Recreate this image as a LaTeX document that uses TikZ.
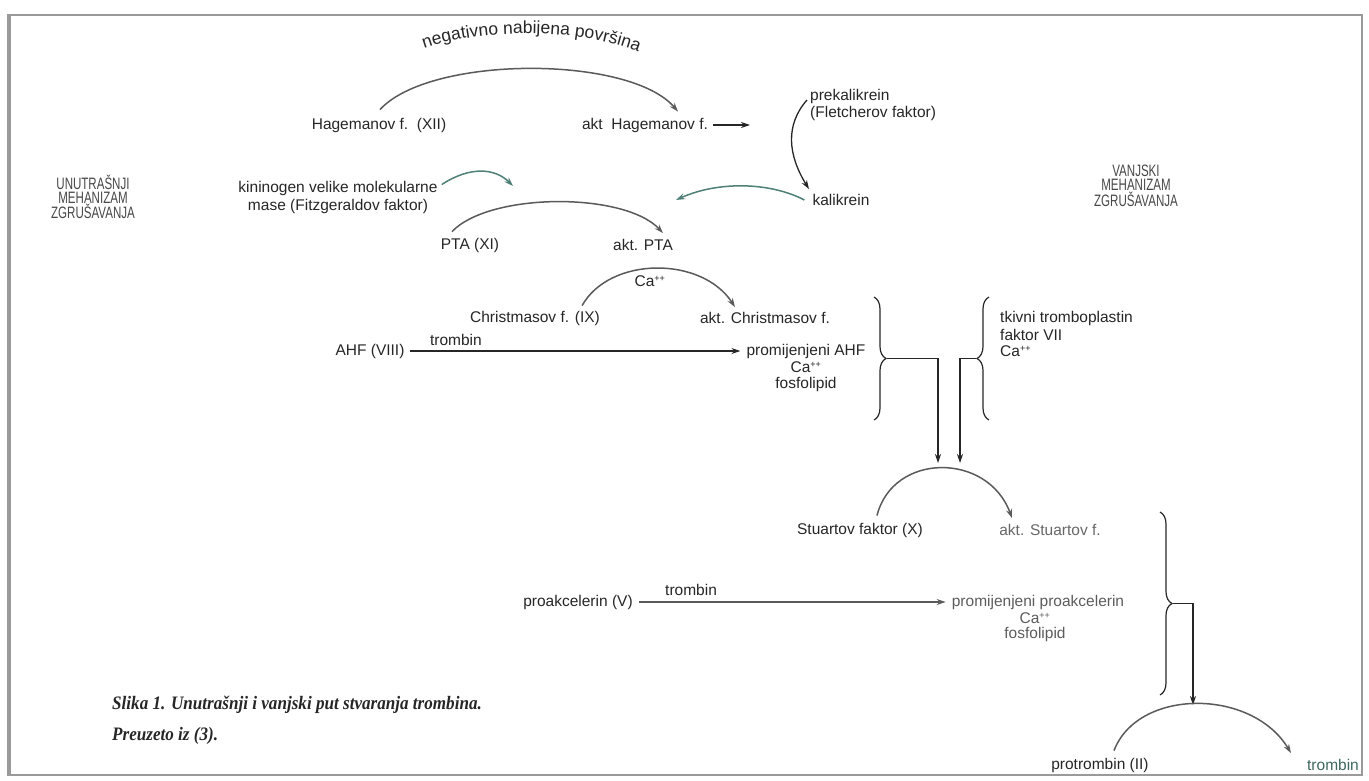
\documentclass[tikz,border=0pt]{standalone}
\usepackage{fontspec}
\setmainfont{Liberation Sans}
\newfontfamily\condfont{Liberation Sans}[FakeStretch=0.7]
\newfontfamily\capfont{Liberation Serif}[FakeStretch=0.9]
\usetikzlibrary{arrows.meta,decorations.pathreplacing,decorations.text}
\definecolor{txt}{HTML}{262626}
\definecolor{arcg}{HTML}{5A5A5A}
\definecolor{tealc}{HTML}{4E8077}
\definecolor{framec}{HTML}{9A9A9A}
\newcommand{\cpp}{\textsuperscript{\fontsize{9}{9}\selectfont ++}}
\tikzset{
  lbl/.style={inner sep=0pt, text=txt, font=\fontsize{15.5}{18}\selectfont},
  mech/.style={inner sep=0pt, text=txt!85, align=center, font=\condfont\fontsize{16.5}{14}\selectfont},
  arcarrow/.style={draw=arcg, line width=1.5pt, -{Stealth[length=9pt,width=6pt]}},
  blkarrow/.style={draw=txt, line width=1.3pt, -{Stealth[length=9pt,width=6pt]}},
  tealarrow/.style={draw=tealc, line width=1.5pt, -{Stealth[length=9pt,width=6pt]}},
  bracestyle/.style={draw=txt, line width=1.2pt, decorate, decoration={brace, amplitude=12pt}},
  connline/.style={draw=txt, line width=1.2pt},
  captxt/.style={inner sep=0pt, anchor=west, text=txt, font=\capfont\bfseries\itshape\fontsize{19}{21}\selectfont},
}
\begin{document}
\begin{tikzpicture}[x=1pt,y=-1pt]
\useasboundingbox (0,0) rectangle (1369,781);
% frame
\draw[framec, line width=2.5pt] (8,15) -- (1362,15) -- (1362,775) -- (8,775) -- cycle;
\draw[framec, line width=4pt] (9,15) -- (9,775);

% side labels
\node[mech] (unut) at (93,197) {UNUTRAŠNJI\\MEHANIZAM\\ZGRUŠAVANJA};
\node[mech] (vanj) at (1136,186) {VANJSKI\\MEHANIZAM\\ZGRUŠAVANJA};

% row 1
\node[lbl] (hag) at (379,125) {Hagemanov f.\ \ (XII)};
\node[lbl] (akthag) at (645,125) {akt\ \ Hagemanov f.};
\draw[arcarrow] ([xshift=1pt,yshift=8pt]hag.north) .. controls (430,55) and (630,55) .. ([xshift=33pt,yshift=6pt]akthag.north);
\path[decorate, decoration={text along path, text align=center,
  text={|\fontsize{17.5}{18}\selectfont\color{txt}|negativno nabijena površina}}]
  (400,60) .. controls (458,24) and (602,24) .. (662,64);

\node[lbl, anchor=west] (prek) at (810,96) {prekalikrein};
\node[lbl, anchor=west] (fletch) at (810,113) {(Fletcherov faktor)};
\node[lbl] (kal) at (841,200) {kalikrein};
\coordinate (hagend) at (750,125);
\draw[blkarrow] ([xshift=5pt]akthag.east) -- (hagend);
\draw[blkarrow] ([xshift=-3pt,yshift=-4pt]prek.west) .. controls (785,125) and (788,155) .. ([xshift=-32pt,yshift=5pt]kal.north);

% row 2
\node[lbl, align=center] (kin) at (338,197) {kininogen velike molekularne\\mase (Fitzgeraldov faktor)};
\node[lbl] (pta) at (470,245) {PTA (XI)};
\node[lbl] (aktpta) at (643,245) {akt. PTA};
\draw[arcarrow] ([xshift=-18pt,yshift=6pt]pta.north) .. controls (490,192) and (625,192) .. ([xshift=20pt,yshift=6pt]aktpta.north);
\draw[tealarrow] ([xshift=4pt,yshift=-4pt]kin.north east) .. controls (470,166) and (495,168) .. (513,186);
\draw[tealarrow] ([xshift=-8pt]kal.west) .. controls (770,182) and (718,181) .. (676,200);

% row 3
\node[lbl] (ca1) at (650,281) {Ca\cpp};
\node[lbl] (chr) at (535,318) {Christmasov f. (IX)};
\node[lbl] (aktchr) at (765,318) {akt. Christmasov f.};
\draw[arcarrow] ([xshift=-18pt,yshift=5pt]chr.north east) .. controls (610,256) and (702,256) .. ([xshift=-30pt,yshift=5pt]aktchr.north);

% row 4
\node[lbl] (ahf) at (370,351) {AHF (VIII)};
\node[lbl] (pahf) at (806,351) {promijenjeni AHF};
\node[lbl] (pahfca) at (806,367) {Ca\cpp};
\node[lbl] (pahffos) at (806,384) {fosfolipid};
\draw[blkarrow] ([xshift=5pt]ahf.east) -- node[lbl, above=5pt, pos=0.14] (trb1) {trombin} ([xshift=-6pt]pahf.west);

\node[lbl, anchor=west] (tkiv) at (1000,318) {tkivni tromboplastin};
\node[lbl, anchor=west] (fVII) at (1000,335) {faktor VII};
\node[lbl, anchor=west] (ca3) at (1000,351) {Ca\cpp};

% braces
\draw[bracestyle] (874,297) -- (874,420) coordinate[midway, xshift=13pt] (b1);
\draw[bracestyle] (989,420) -- (989,297) coordinate[midway, xshift=-13pt] (b2);
\node[lbl] (stu) at (860,530) {Stuartov faktor (X)};
\node[lbl, text=txt!70] (aktstu) at (1050,530) {akt. Stuartov f.};
\coordinate (t1) at (938,463);
\coordinate (t2) at (960,463);
\draw[connline] (b1) -| ([yshift=10pt]t1);
\draw[blkarrow, line width=1.2pt] ([yshift=10pt]t1) -- (t1);
\draw[connline] (b2) -| ([yshift=10pt]t2);
\draw[blkarrow, line width=1.2pt] ([yshift=10pt]t2) -- (t2);
\draw[arcarrow] ([xshift=17pt,yshift=7pt]stu.north) .. controls (893,452) and (988,452) .. ([xshift=-38pt,yshift=6pt]aktstu.north);

% row 5
\node[lbl] (proak) at (578,602) {proakcelerin (V)};
\node[lbl, text=txt!75] (pproak) at (1038,602) {promijenjeni proakcelerin};
\node[lbl, text=txt!75] (pproakca) at (1035,618) {Ca\cpp};
\node[lbl, text=txt!75] (pproakfos) at (1035,634) {fosfolipid};
\draw[arcarrow] ([xshift=6pt]proak.east) -- node[lbl, above=6pt, pos=0.17] (trb2) {trombin} ([xshift=-6pt]pproak.west);

\draw[bracestyle] (1160,512) -- (1160,695) coordinate[midway, xshift=13pt] (b3);
\coordinate (t3) at (1193,705);
\draw[connline] (b3) -| ([yshift=10pt]t3);
\draw[blkarrow, line width=1.2pt] ([yshift=10pt]t3) -- (t3);

% row 6
\node[lbl] (prot) at (1100,765) {protrombin (II)};
\node[lbl, text=tealc!80!black] (tromb) at (1333,765) {trombin};
\draw[arcarrow] ([xshift=14pt,yshift=7pt]prot.north) .. controls (1138,688) and (1252,688) .. ([xshift=-42pt,yshift=6pt]tromb.north);

% caption
\node[captxt] (cap1) at (112,705) {Slika 1. Unutrašnji i vanjski put stvaranja trombina.};
\node[captxt] (cap2) at (112,736) {Preuzeto iz (3).};
\end{tikzpicture}
\end{document}
